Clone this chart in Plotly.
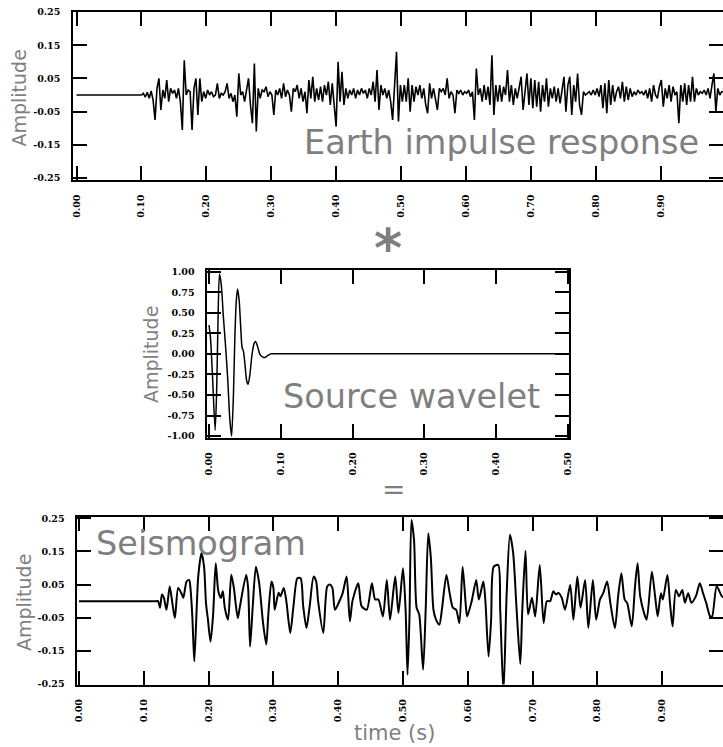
import plotly.graph_objects as go

# ---------------- data ----------------
# Earth impulse response: flat until 0.10 s, then sampled every 0.003 s
earth_flat_t = [0.0, 0.097]
earth_flat_v = [0.0, 0.0]
earth_start = 0.100
earth_dt = 0.003
earth_v = [
    0.0, 0.005, -0.006, 0.008, -0.01, 0.012, -0.015, -0.075, 0.02, 0.05,
    -0.045, 0.015, -0.01, 0.045, -0.02, 0.02, 0.005, 0.015, -0.01, 0.02,
    -0.02, -0.105, 0.105, 0.0, 0.015, 0.01, -0.105, 0.02, 0.05, -0.06,
    0.05, -0.02, 0.01, -0.01, 0.015, 0.0, 0.01, -0.005, 0.0, 0.035,
    -0.01, 0.005, 0.0, 0.01, 0.035, -0.01, 0.005, -0.02, 0.0, -0.065,
    0.065, 0.0, 0.01, -0.02, 0.015, 0.05, -0.03, -0.085, 0.095, -0.11,
    0.02, -0.01, 0.015, 0.01, 0.025, -0.005, 0.01, 0.0, -0.06, 0.015,
    0.0, 0.02, -0.01, 0.035, -0.005, 0.015, 0.0, -0.05, 0.02, 0.01,
    0.03, -0.01, 0.02, -0.02, 0.01, -0.055, 0.045, -0.01, 0.055, -0.02,
    0.02, -0.015, 0.025, -0.02, 0.03, 0.0, 0.04, -0.03, 0.035, -0.02,
    -0.095, 0.1, -0.02, 0.07, -0.03, 0.02, -0.01, 0.015, 0.0, 0.02,
    -0.01, 0.015, 0.0, 0.02, 0.005, 0.015, -0.01, 0.02, 0.0, 0.04,
    -0.02, 0.075, -0.045, 0.03, 0.0, 0.02, -0.01, 0.015, -0.02, -0.075,
    0.02, 0.13, -0.08, 0.03, -0.02, 0.03, -0.02, 0.05, -0.05, 0.03,
    -0.02, 0.025, 0.0, 0.03, -0.01, 0.02, -0.03, -0.055, 0.035, -0.01,
    0.02, -0.01, -0.045, 0.02, 0.01, 0.02, 0.0, 0.05, -0.01, 0.01,
    0.0, -0.055, 0.015, 0.005, 0.015, 0.0, 0.01, 0.005, 0.015, -0.005,
    0.01, -0.075, 0.08, 0.0, 0.02, -0.02, 0.03, -0.015, 0.025, -0.03,
    0.12, -0.06, 0.03, -0.02, 0.03, -0.02, 0.025, 0.0, 0.075, -0.02,
    0.03, -0.03, 0.02, -0.01, 0.03, 0.055, -0.045, 0.02, 0.065, -0.03,
    0.05, -0.04, 0.045, -0.035, 0.04, -0.05, 0.03, -0.02, 0.05, -0.035,
    0.02, -0.01, 0.025, -0.02, 0.02, -0.025, 0.015, 0.055, -0.05, 0.03,
    0.055, -0.06, 0.03, -0.02, 0.065, -0.03, -0.06, 0.01, 0.0, 0.005,
    0.01, 0.0, 0.015, 0.0, 0.02, -0.005, 0.03, -0.04, 0.035, -0.055,
    0.045, -0.03, 0.03, -0.02, 0.01, 0.025, -0.01, 0.04, -0.02, 0.025,
    -0.015, 0.02, -0.005, 0.01, 0.0, 0.015, 0.005, 0.01, 0.0, 0.015,
    -0.01, 0.02, -0.02, 0.03, 0.0, -0.01, 0.025, 0.045, -0.035, 0.02,
    -0.01, 0.03, -0.02, 0.025, 0.0, 0.01, -0.085, 0.03, -0.02, 0.035,
    -0.03, 0.03, -0.02, 0.055, -0.02, 0.02, 0.0, 0.01, 0.005, 0.015,
    0.0, 0.02, -0.01, 0.03, 0.065, -0.05, 0.02, 0.0, 0.01, 0.01,
]

# Source wavelet
wave_t = [0.0, 0.002, 0.005, 0.0085, 0.0105, 0.0125, 0.0145, 0.017, 0.020,
          0.023, 0.026, 0.029, 0.0315, 0.034, 0.036, 0.038, 0.0398, 0.042,
          0.044, 0.046, 0.048, 0.050, 0.0525, 0.0545, 0.057, 0.060, 0.063,
          0.065, 0.068, 0.071, 0.075, 0.078, 0.082, 0.086, 0.090, 0.300, 0.500]
wave_v = [0.35, 0.2, -0.3, -0.93, -0.5, 0.4, 0.97, 0.85, 0.45,
          0.1, -0.3, -0.8, -1.0, -0.5, 0.2, 0.65, 0.79, 0.65,
          0.35, 0.08, 0.03, -0.12, -0.33, -0.37, -0.25, 0.0, 0.13,
          0.15, 0.08, -0.01, -0.04, -0.045, -0.02, 0.0, 0.0, 0.0, 0.0]

# Seismogram
seis_t = [0.000, 0.040, 0.080, 0.110, 0.119, 0.122, 0.125, 0.128, 0.131, 0.135,
          0.140, 0.144, 0.148, 0.153,
          0.158, 0.161, 0.166, 0.170, 0.172, 0.175, 0.178, 0.184, 0.189, 0.193,
          0.196, 0.199, 0.203, 0.207, 0.211, 0.215, 0.219, 0.222, 0.225, 0.230,
          0.235, 0.239, 0.245, 0.248, 0.258, 0.261, 0.264, 0.268, 0.273, 0.278,
          0.284, 0.289, 0.292, 0.297, 0.300, 0.302, 0.308, 0.311, 0.316, 0.320,
          0.326, 0.331, 0.337, 0.342, 0.346, 0.351, 0.356, 0.362, 0.366, 0.369,
          0.377, 0.383, 0.387, 0.391, 0.395, 0.403, 0.407, 0.413, 0.418, 0.422,
          0.431, 0.436, 0.444, 0.452, 0.457, 0.462, 0.469, 0.475, 0.480, 0.488,
          0.493, 0.500, 0.504, 0.507, 0.510, 0.513, 0.517, 0.521, 0.525, 0.531,
          0.535, 0.539, 0.543, 0.547, 0.551, 0.556, 0.560, 0.567, 0.572, 0.577,
          0.582, 0.587, 0.592, 0.597, 0.599, 0.606, 0.613, 0.617, 0.624, 0.627,
          0.632, 0.636, 0.640, 0.647, 0.650, 0.655, 0.660, 0.665, 0.670, 0.675,
          0.681, 0.684, 0.689, 0.693, 0.699, 0.704, 0.711, 0.717, 0.722, 0.727,
          0.732, 0.736, 0.740, 0.745, 0.750, 0.758, 0.763, 0.769, 0.774, 0.781,
          0.786, 0.793, 0.798, 0.804, 0.809, 0.815, 0.820, 0.827, 0.832, 0.837,
          0.842, 0.846, 0.853, 0.858, 0.862, 0.866, 0.872, 0.876, 0.884, 0.889,
          0.893, 0.898, 0.901, 0.908, 0.912, 0.916, 0.921, 0.926, 0.931, 0.935,
          0.940, 0.945, 0.952, 0.958, 0.963, 0.968, 0.974, 0.977, 0.984, 0.992,
          0.996]
seis_v = [0.0, 0.0, 0.0, 0.0, 0.0, 0.0, -0.02, 0.02, 0.01, -0.026,
          0.044, -0.005, -0.051, 0.04,
          0.024, 0.01, 0.059, 0.064, 0.04, -0.05, -0.182, 0.074, 0.145, 0.104,
          -0.006, -0.056, -0.122, -0.04, 0.114, 0.03, 0.01, 0.03, -0.02, -0.056,
          0.08, 0.04, -0.051, -0.02, 0.08, 0.04, -0.137, -0.02, 0.104, 0.055,
          -0.065, -0.131, -0.045, 0.059, 0.04, -0.026, 0.025, 0.015, 0.04, 0.0,
          -0.096, -0.015, 0.069, 0.069, -0.015, -0.081, -0.015, 0.074, 0.06, 0.0,
          -0.096, 0.044, 0.05, 0.04, -0.026, 0.005, 0.025, 0.074, -0.061, 0.0,
          0.054, -0.015, -0.026, 0.054, 0.005, 0.005, -0.046, 0.064, -0.056, 0.074,
          -0.036, 0.099, -0.026, -0.222, -0.05, 0.245, 0.185, -0.02, -0.04, -0.207,
          -0.026, 0.205, 0.13, -0.026, -0.056, -0.071, -0.026, 0.079, 0.024, -0.02,
          -0.026, -0.066, 0.104, -0.015, -0.046, 0.0, 0.064, 0.005, 0.059, 0.005,
          -0.167, -0.056, 0.104, 0.109, -0.026, -0.277, 0.024, 0.2, 0.145, -0.015,
          -0.19, -0.03, 0.152, -0.04, 0.01, -0.046, 0.109, -0.066, 0.0, 0.0,
          0.03, 0.02, 0.025, 0.01, -0.026, 0.049, -0.056, 0.074, -0.02, 0.064,
          -0.081, 0.064, -0.056, 0.005, 0.024, 0.059, -0.006, -0.081, 0.015, 0.084,
          0.005, -0.006, -0.076, 0.044, 0.114, 0.015, -0.036, -0.056, 0.089, 0.015,
          -0.046, 0.024, 0.005, 0.079, -0.006, -0.076, 0.034, 0.015, 0.034, -0.005,
          0.024, -0.005, 0.015, 0.054, 0.024, -0.006, -0.046, -0.046, 0.045, 0.015,
          0.01]

# tick labels
time_ticks_long = [0.0, 0.1, 0.2, 0.3, 0.4, 0.5, 0.6, 0.7, 0.8, 0.9, 1.0]
time_ticks_short = [0.0, 0.1, 0.2, 0.3, 0.4, 0.5]
amp_ticks_small = [0.25, 0.15, 0.05, -0.05, -0.15, -0.25]
amp_ticks_wave = [1.0, 0.75, 0.5, 0.25, 0.0, -0.25, -0.5, -0.75, -1.0]

# ---------------- figure ----------------
W, H = 723, 747
GRAY = "#7f7f7f"
tickfont = dict(family="DejaVu Serif", size=9.5, color="black", weight="bold")

earth_t = earth_flat_t + [round(earth_start + earth_dt * i, 4) for i in range(len(earth_v))]
earth_all = earth_flat_v + earth_v

fig = go.Figure()
fig.add_trace(go.Scatter(x=earth_t, y=earth_all, mode="lines",
                         line=dict(color="black", width=1.6), xaxis="x", yaxis="y"))
fig.add_trace(go.Scatter(x=wave_t, y=wave_v, mode="lines",
                         line=dict(color="black", width=1.5, shape="spline", smoothing=0.6),
                         xaxis="x2", yaxis="y2"))
fig.add_trace(go.Scatter(x=seis_t, y=seis_v, mode="lines",
                         line=dict(color="black", width=2.0, shape="spline", smoothing=0.7),
                         xaxis="x3", yaxis="y3"))


def px_x(p):
    return p / W


def px_y(p):
    return 1 - p / H


def xaxis(domain, rng, vals, anchor):
    return dict(domain=domain, range=rng, anchor=anchor,
                tickvals=vals, ticktext=["%.2f" % v for v in vals],
                tickangle=-90, tickfont=tickfont, ticks="inside", ticklen=14,
                tickwidth=1.6, tickcolor="black", showline=True, linecolor="black",
                linewidth=1.6, mirror="ticks", showgrid=False, zeroline=False,
                ticklabelstandoff=9, automargin=False, fixedrange=True)


def yaxis(domain, rng, vals, anchor):
    return dict(domain=domain, range=rng, anchor=anchor,
                tickvals=vals, ticktext=["%.2f" % v for v in vals],
                tickfont=tickfont, ticks="inside", ticklen=14,
                tickwidth=1.6, tickcolor="black", showline=True, linecolor="black",
                linewidth=1.6, mirror="ticks", showgrid=False, zeroline=False,
                ticklabelstandoff=9, automargin=False, fixedrange=True)


fig.update_layout(
    width=W, height=H, margin=dict(l=0, r=0, t=0, b=0),
    paper_bgcolor="white", plot_bgcolor="white", showlegend=False,
    xaxis=xaxis([px_x(73), 1.0], [-0.0054, 0.996], time_ticks_long, "y"),
    yaxis=yaxis([px_y(180), px_y(11.7)], [-0.256, 0.251], amp_ticks_small, "x"),
    xaxis2=xaxis([px_x(207.3), px_x(569)], [-0.0024, 0.5015], time_ticks_short, "y2"),
    yaxis2=yaxis([px_y(437.7), px_y(270)], [-1.02, 1.02], amp_ticks_wave, "x2"),
    xaxis3=xaxis([px_x(77.3), 1.0], [-0.0026, 0.9938], time_ticks_long, "y3"),
    yaxis3=yaxis([px_y(684.5), px_y(516.7)], [-0.2515, 0.2548], amp_ticks_small, "x3"),
)

big = dict(family="DejaVu Sans", size=33.5, color=GRAY)
ylab = dict(family="DejaVu Sans", size=19, color=GRAY)
notes = [
    dict(text="Earth impulse response", x=px_x(501.5), y=px_y(142), font=big),
    dict(text="Source wavelet", x=px_x(411.5), y=px_y(396.5), font=big),
    dict(text="Seismogram", x=px_x(201), y=px_y(543.5), font=big),
    dict(text="Amplitude", x=px_x(18.5), y=px_y(98), font=ylab, textangle=-90),
    dict(text="Amplitude", x=px_x(151), y=px_y(355), font=ylab, textangle=-90),
    dict(text="Amplitude", x=px_x(24), y=px_y(603), font=ylab, textangle=-90),
    dict(text="time (s)", x=px_x(394.5), y=px_y(733), font=dict(family="DejaVu Sans", size=21, color=GRAY)),
    dict(text="*", x=px_x(387.5), y=px_y(249), font=dict(family="DejaVu Sans", size=54, color=GRAY, weight="bold")),
    dict(text="=", x=px_x(393.5), y=px_y(489.5), font=dict(family="DejaVu Sans", size=28, color=GRAY)),
]
for n in notes:
    fig.add_annotation(xref="paper", yref="paper", showarrow=False,
                       xanchor="center", yanchor="middle", **n)

fig.write_html("out.html")
